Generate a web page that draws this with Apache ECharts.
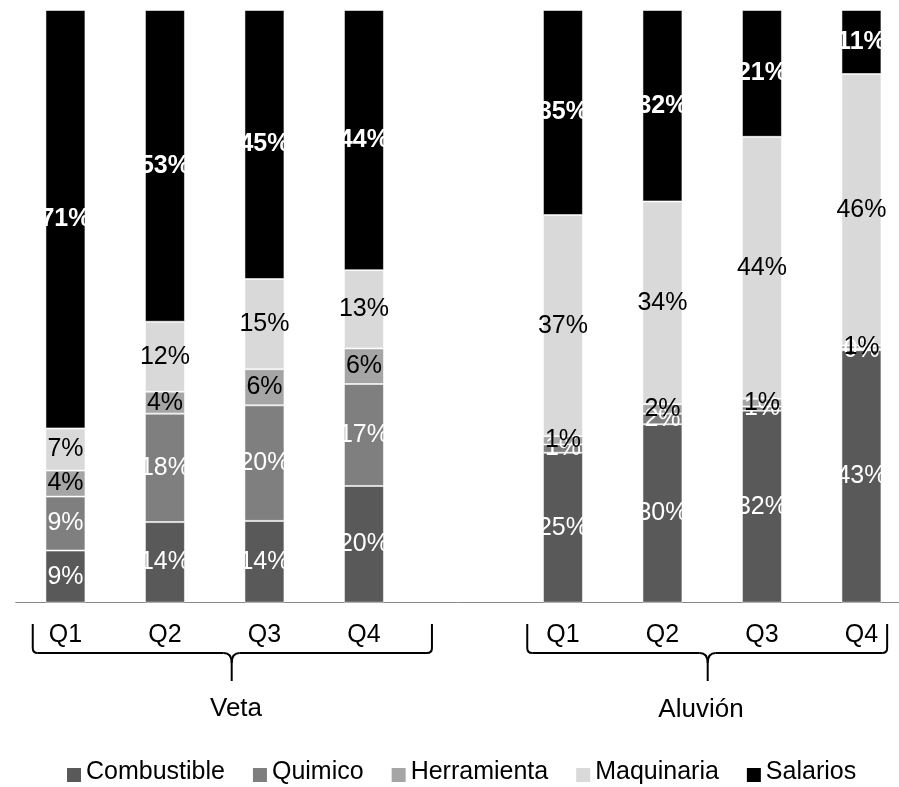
<!DOCTYPE html>
<html>
<head>
<meta charset="utf-8">
<script src="https://cdn.jsdelivr.net/npm/echarts@6/dist/echarts.min.js"></script>
<style>
html,body{margin:0;padding:0;background:#fff;}
#chart{width:899px;height:787px;}
</style>
</head>
<body>
<div id="chart"></div>
<script>
const categories = ['Q1','Q2','Q3','Q4','','Q1','Q2','Q3','Q4'];
const groupNames = ['Veta','Aluvión'];
const seriesNames = ['Combustible','Quimico','Herramienta','Maquinaria','Salarios'];
const combustible = [8.8,13.6,13.8,19.7,null,25.3,30.1,32.4,42.6];
const quimico     = [9.1,18.3,19.5,17.2,null,1.4,1.8,0.7,0.2];
const herramienta = [4.4,3.7,6.1,6.0,null,1.4,1.6,1.3,0.6];
const maquinaria  = [7.1,11.8,15.2,13.2,null,37.3,34.2,44.2,45.8];
const salarios    = [70.6,52.6,45.4,43.9,null,34.6,32.3,21.4,10.8];

const colors = ['#595959','#7f7f7f','#a5a5a5','#d9d9d9','#000000'];
const labelColors = ['#ffffff','#ffffff','#000000','#000000','#ffffff'];
const labelWeights = ['normal','normal','normal','normal','bold'];
const allData = [combustible, quimico, herramienta, maquinaria, salarios];
const FONT = 'Liberation Sans, Arial, sans-serif';

(function(){
const chart = echarts.init(document.getElementById('chart'), null, {renderer:'canvas'});

const series = seriesNames.map((name, i) => ({
  name: name,
  type: 'bar',
  stack: 'total',
  barWidth: 40,
  data: allData[i],
  itemStyle: { color: colors[i], borderColor: 'rgba(255,255,255,0.55)', borderWidth: 1 },
  label: {
    show: true,
    position: 'inside',
    color: labelColors[i],
    fontWeight: labelWeights[i],
    fontSize: 25,
    fontFamily: FONT,
    formatter: p => (p.value == null ? '' : Math.round(p.value) + '%')
  },
  emphasis: { disabled: true },
  animation: false
}));

chart.setOption({
  animation: false,
  backgroundColor: '#ffffff',
  grid: { left: 15.7, right: -12.2, top: 10, bottom: 184.3, containLabel: false, outerBoundsMode: 'none' },
  legend: {
    data: seriesNames,
    left: 67,
    top: 760,
    padding: 0,
    itemGap: 28,
    itemWidth: 14,
    itemHeight: 19,
    icon: 'path://M0,0L0,0M0,5L14,5L14,19L0,19Z',
    itemStyle: { borderWidth: 0 },
    textStyle: { fontSize: 25, fontFamily: FONT, color: '#000' }
  },
  xAxis: {
    type: 'category',
    data: categories,
    axisLine: { lineStyle: { color: '#888888', width: 1 } },
    axisTick: { length: 8, lineStyle: { color: '#888888' } },
    axisLabel: { fontSize: 25, fontFamily: FONT, color: '#000', margin: 20, interval: 0 }
  },
  yAxis: { type: 'value', min: 0, max: 100, show: false },
  series: series
});

function px(i){ return chart.convertToPixel({xAxisIndex:0}, i); }
const braceDefs = [
  { L: px(0) - 32.7, R: px(3) + 68, tip: px(0) + (px(3) - px(0)) / 2 + 17, textX: 236, textY: 709, name: groupNames[0] },
  { L: px(5) - 35.7, R: px(8) + 25.7, tip: px(5) + (px(8) - px(5)) / 2 - 4.5, textX: 701, textY: 710, name: groupNames[1] }
];
const yTop = 624, yMid = 653, yBot = 681;
const lineStyle = { stroke: '#000', lineWidth: 2, fill: null };
const graphics = [];
function seg(x1, y1, x2, y2){ graphics.push({ type: 'line', shape: { x1, y1, x2, y2 }, style: lineStyle, silent: true }); }
function curve(x1, y1, cpx1, cpy1, x2, y2){ graphics.push({ type: 'bezierCurve', shape: { x1, y1, cpx1, cpy1, x2, y2 }, style: lineStyle, silent: true }); }
braceDefs.forEach(b => {
  const r = 5, c = b.tip;
  seg(b.L, yTop, b.L, yMid - r);
  curve(b.L, yMid - r, b.L, yMid, b.L + r, yMid);
  seg(b.L + r, yMid, c - 8, yMid);
  curve(c - 8, yMid, c, yMid, c, yMid + 10);
  curve(c + 8, yMid, c, yMid, c, yMid + 10);
  seg(c, yMid + 10, c, yBot);
  seg(c + 8, yMid, b.R - r, yMid);
  curve(b.R - r, yMid, b.R, yMid, b.R, yMid - r);
  seg(b.R, yMid - r, b.R, yTop);
  graphics.push({ type: 'text', x: b.textX, y: b.textY, style: { text: b.name, fontSize: 26, fontFamily: FONT, fill: '#000', align: 'center', verticalAlign: 'middle' }, silent: true });
});
chart.setOption({ graphic: graphics });
})();
</script>
</body>
</html>
